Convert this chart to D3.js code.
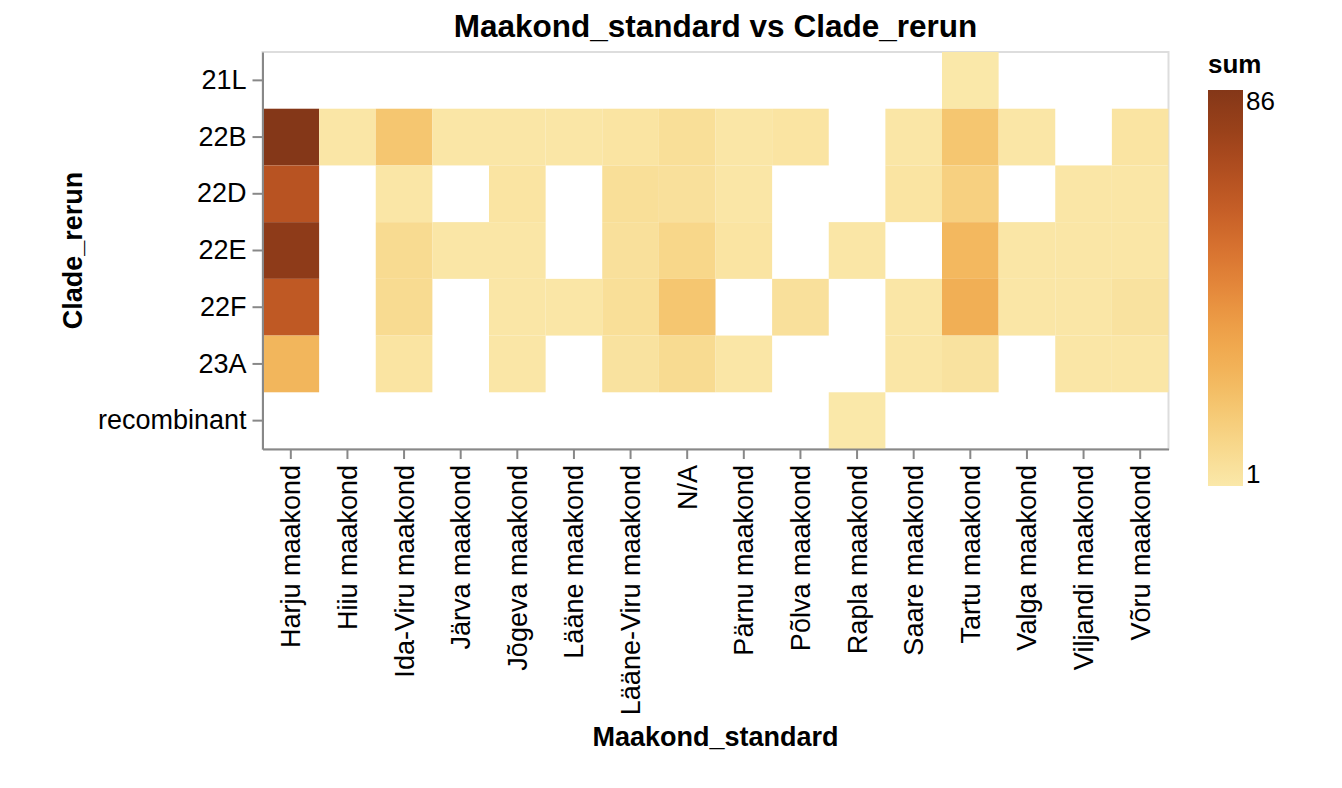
<!DOCTYPE html>
<html>
<head>
<meta charset="utf-8">
<script src="https://cdn.jsdelivr.net/npm/d3@7"></script>
<style>
  body { margin: 0; background: #fff; }
  svg { display: block; font-family: "Liberation Sans", Arial, Helvetica, sans-serif; }
</style>
</head>
<body>
<svg id="chart"></svg>
<script>
// counties on x, clades on y
const counties = [
  "Harju maakond", "Hiiu maakond", "Ida-Viru maakond", "Järva maakond",
  "Jõgeva maakond", "Lääne maakond", "Lääne-Viru maakond", "N/A",
  "Pärnu maakond", "Põlva maakond", "Rapla maakond", "Saare maakond",
  "Tartu maakond", "Valga maakond", "Viljandi maakond", "Võru maakond"
];
const clades = ["21L", "22B", "22D", "22E", "22F", "23A", "recombinant"];

// sums per clade, one value per county (null = no cell)
const sum21L = [null, null, null, null, null, null, null, null, null, null, null, null, 1, null, null, null];
const sum22B = [86, 2, 18, 2, 2, 2, 3, 6, 2, 3, null, 2, 18, 2, null, 3];
const sum22D = [66, null, 2, null, 3, null, 6, 5, 2, null, null, 3, 13, null, 2, 2];
const sum22E = [82, null, 8, 2, 2, null, 5, 10, 3, null, 2, null, 24, 2, 2, 2];
const sum22F = [63, null, 8, null, 2, 2, 6, 18, null, 5, null, 2, 28, 2, 2, 4];
const sum23A = [25, null, 3, null, 2, null, 4, 8, 2, null, null, 2, 4, null, 2, 2];
const sumRecomb = [null, null, null, null, null, null, null, null, null, null, 1, null, null, null, null, null];
const sumRows = [sum21L, sum22B, sum22D, sum22E, sum22F, sum23A, sumRecomb];

const legendTicks = [1, 86];

const cells = [];
sumRows.forEach((row, i) => {
  row.forEach((v, j) => {
    if (v != null) cells.push({ clade: clades[i], county: counties[j], sum: v });
  });
});

const width = 1342, height = 788;
const margin = { left: 262.5, top: 52, right: 1168.5, bottom: 449 };

const svg = d3.select("#chart").attr("width", width).attr("height", height);

const x = d3.scaleBand().domain(counties).range([margin.left, margin.right]).padding(0);
const y = d3.scaleBand().domain(clades).range([margin.top, margin.bottom]).padding(0);

const colorStops = [
  "#fae8a9", "#f8d88c", "#f5c66f", "#f2b257", "#eea047", "#e5883a",
  "#d77130", "#c65e26", "#b04d20", "#994019", "#843718"
];
const color = d3.scaleSequential(d3.interpolateRgbBasis(colorStops))
  .domain(d3.extent(legendTicks));

// view border
svg.append("rect")
  .attr("x", margin.left)
  .attr("y", margin.top)
  .attr("width", margin.right - margin.left)
  .attr("height", margin.bottom - margin.top)
  .attr("fill", "none")
  .attr("stroke", "#ddd")
  .attr("stroke-width", 2);

svg.append("g")
  .selectAll("rect")
  .data(cells)
  .join("rect")
  .attr("x", d => x(d.county))
  .attr("y", d => y(d.clade))
  .attr("width", x.bandwidth())
  .attr("height", y.bandwidth())
  .attr("fill", d => color(d.sum));

// axes
const fontSize = 27;

const yAxis = svg.append("g")
  .attr("transform", `translate(${margin.left},0)`)
  .call(d3.axisLeft(y).tickSize(10).tickSizeOuter(0).tickPadding(6));
yAxis.select(".domain").attr("stroke", "#888").attr("stroke-width", 2);
yAxis.selectAll(".tick line").attr("stroke", "#888").attr("stroke-width", 2);
yAxis.selectAll(".tick text")
  .attr("font-size", fontSize)
  .attr("fill", "#000")
  .attr("font-family", "Liberation Sans, Arial, sans-serif");

const xAxis = svg.append("g")
  .attr("transform", `translate(0,${margin.bottom})`)
  .call(d3.axisBottom(x).tickSize(10).tickSizeOuter(0).tickPadding(6));
xAxis.select(".domain").attr("stroke", "#888").attr("stroke-width", 2);
xAxis.selectAll(".tick line").attr("stroke", "#888").attr("stroke-width", 2);
xAxis.selectAll(".tick text")
  .attr("font-size", fontSize)
  .attr("fill", "#000")
  .attr("font-family", "Liberation Sans, Arial, sans-serif")
  .attr("transform", "rotate(-90)")
  .attr("text-anchor", "end")
  .attr("x", -16)
  .attr("y", 0)
  .attr("dy", "0.35em");

// titles
svg.append("text")
  .attr("x", (margin.left + margin.right) / 2)
  .attr("y", 37)
  .attr("text-anchor", "middle")
  .attr("font-size", 31.5)
  .attr("font-weight", "bold")
  .text("Maakond_standard vs Clade_rerun");

svg.append("text")
  .attr("x", (margin.left + margin.right) / 2)
  .attr("y", 746)
  .attr("text-anchor", "middle")
  .attr("font-size", 27)
  .attr("font-weight", "bold")
  .text("Maakond_standard");

svg.append("text")
  .attr("transform", `translate(82,${(margin.top + margin.bottom) / 2}) rotate(-90)`)
  .attr("text-anchor", "middle")
  .attr("font-size", 27)
  .attr("font-weight", "bold")
  .text("Clade_rerun");

// legend
const legX = 1208, legTop = 90, legBottom = 486, legW = 35;
const defs = svg.append("defs");
const grad = defs.append("linearGradient")
  .attr("id", "leg-grad")
  .attr("x1", 0).attr("y1", 1)
  .attr("x2", 0).attr("y2", 0);
d3.range(0, 1.0001, 0.05).forEach(t => {
  grad.append("stop")
    .attr("offset", t)
    .attr("stop-color", color(legendTicks[0] + t * (legendTicks[1] - legendTicks[0])));
});

svg.append("text")
  .attr("x", legX)
  .attr("y", 73)
  .attr("font-size", 26)
  .attr("font-weight", "bold")
  .text("sum");

svg.append("rect")
  .attr("x", legX)
  .attr("y", legTop)
  .attr("width", legW)
  .attr("height", legBottom - legTop)
  .attr("fill", "url(#leg-grad)");

const legScale = d3.scaleLinear().domain(legendTicks).range([legBottom, legTop]);
svg.append("g")
  .selectAll("text")
  .data(legendTicks)
  .join("text")
  .attr("x", legX + legW + 3)
  .attr("y", d => legScale(d))
  .attr("dy", (d, i) => i === 0 ? "-0.12em" : "0.78em")
  .attr("font-size", 26)
  .text(d => d);
</script>
</body>
</html>
